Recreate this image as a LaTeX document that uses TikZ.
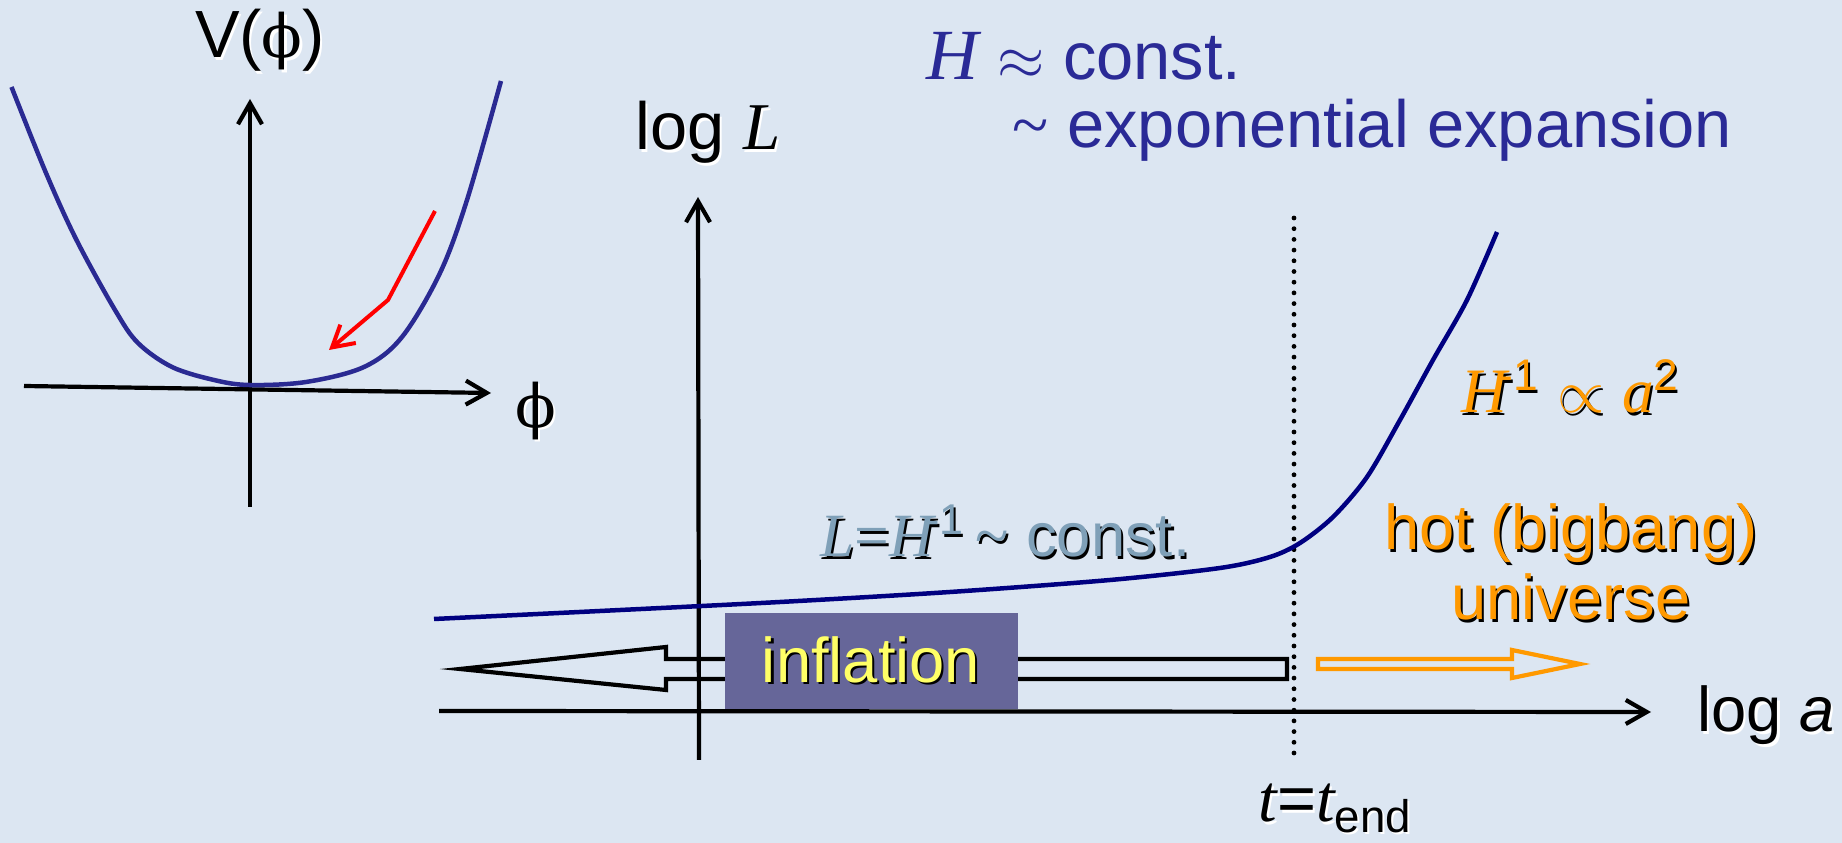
\documentclass[tikz,border=0pt]{standalone}
\usepackage{fontspec}
\setmainfont{Liberation Sans}
\newfontfamily\tms{Liberation Serif}
\newfontfamily\dvs{DejaVu Serif}
\usetikzlibrary{arrows.meta}

\definecolor{bgblue}{RGB}{220,230,242}
\definecolor{potblue}{RGB}{42,42,146}
\definecolor{curvenavy}{RGB}{0,0,128}
\definecolor{textblue}{RGB}{42,42,150}
\definecolor{steelgray}{RGB}{127,160,184}
\definecolor{hotorange}{RGB}{255,153,0}
\definecolor{boxslate}{RGB}{102,102,153}
\definecolor{softyellow}{RGB}{255,255,102}

% text with a drop shadow: #1 shadow colour
\newcommand\shad[2]{\leavevmode\rlap{\kern0.6pt\raisebox{-0.6pt}{\color{#1}#2}}#2}
\newcommand\mi[1]{{\tms\itshape #1}}
\newcommand\Hinv{\mi{H}\textsuperscript{\kern-0.2em-1}}
\newcommand\phisym{{\dvs\fontsize{17}{19}\selectfont ϕ}}
\newcommand\tld{{\tms\textasciitilde}}

\begin{document}
\begin{tikzpicture}[
    x=0.1mm, y=-0.1mm,
    >={Straight Barb[length=2.1mm,width=2.4mm]},
    axis/.style={line width=0.42mm, ->},
    curve/.style={line width=0.45mm},
    blocky/.style={line width=0.42mm, line join=miter},
    dotline/.style={line width=0.48mm, line cap=round, dash pattern=on 0pt off 1.07mm},
    lbl/.style={inner sep=0pt, font=\fontsize{19}{22}\selectfont},
    infbox/.style={fill=boxslate, text=softyellow, inner sep=0pt,
        minimum width=29.3mm, minimum height=9.6mm,
        font=\fontsize{18}{20}\selectfont}
]

    % Background
    \fill[bgblue] (0,0) rectangle (1842,843);
    \useasboundingbox (0,0) rectangle (1842,843);

    % Coordinates
    \coordinate (phiL) at (24,386);    % phi axis left
    \coordinate (phiR) at (491,393);   % phi axis right
    \coordinate (vB) at (250,507);     % V axis bottom
    \coordinate (vT) at (250,99);      % V axis top
    \coordinate (r1) at (435,211);     % red arrow start
    \coordinate (r2) at (388,300);     % red arrow knee
    \coordinate (r3) at (329,350);     % red arrow tip
    \coordinate (aL) at (439,711);     % log a axis left
    \coordinate (aR) at (1651,712);    % log a axis right
    \coordinate (LB) at (699,760);     % log L axis bottom
    \coordinate (LT) at (698,197);     % log L axis top
    \coordinate (dT) at (1294,218);    % t_end top
    \coordinate (dB) at (1294,763);    % t_end bottom

    % Potential V(phi)
    \draw[axis] (phiL) -- (phiR);
    \draw[axis] (vB) -- (vT);
    \draw[potblue, curve] plot[smooth, tension=0.55] coordinates {
        (11.5,87) (46,173) (76.5,240) (115,310) (138,343) (172,367)
        (214,380) (249,385) (306,382) (364,367) (402,337) (440,273)
        (467,200) (501,81)};
    \draw[red, line width=0.4mm, ->, line join=round] (r1) -- (r2) -- (r3);

    \node[lbl, anchor=base] (Vlab) at (260,58) {\shad{white}{V(\phisym)}};
    \node[lbl] (philab) at (536,412) {\shad{white}{\phisym}};

    % Block arrows
    \draw[black, blocky] (460,669) -- (666,647) -- (666,659) -- (1287,659)
        -- (1287,679) -- (666,679) -- (666,690) -- cycle;
    \draw[hotorange, blocky] (1318,659) -- (1512,659) -- (1512,650) -- (1580,664)
        -- (1512,678) -- (1512,669) -- (1318,669) -- cycle;

    \node[infbox] (infl) at (871,661) {\shad{black}{inflation}};

    % log L -- log a
    \draw[axis] (aL) -- (aR);
    \draw[axis] (LB) -- (LT);
    \draw[dotline] (dT) -- (dB);
    \draw[curvenavy, curve] plot[smooth] coordinates {
        (434,619) (600,611) (780,602) (950,592) (1110,580) (1220,568)
        (1270,557) (1300,543) (1333,517) (1367,477) (1400,420) (1433,360)
        (1467,300) (1497,232)};

    \node[lbl, anchor=base west] (logL) at (635,150) {\shad{white}{log \mi{L}}};
    \node[lbl, anchor=base west, font=\fontsize{18}{20}\selectfont] (loga) at (1697,732)
        {\shad{white}{log \textit{a}}};
    \node[lbl, anchor=base west] (tend) at (1258,822)
        {\shad{white}{\mi{t}=\mi{t}\raisebox{-3pt}{\fontsize{13}{13}\selectfont end}}};

    % Labels
    \node[lbl, text=textblue, anchor=base west] (Hc) at (926,80)
        {{\fontsize{20.5}{22}\selectfont\mi{H}} $\approx$ const.};
    \node[lbl, text=textblue, anchor=base west] (expo) at (1012,148)
        {\tld\ exponential expansion};
    \node[lbl, text=steelgray, anchor=base west, font=\fontsize{17.5}{20}\selectfont] (Lc) at (820,557)
        {\shad{black}{\mi{L}{\tms =}\Hinv\,\tld\ const.}};
    \node[lbl, text=hotorange, anchor=base, font=\fontsize{18}{20}\selectfont] (Ha) at (1571,413)
        {\shad{black}{\Hinv\ $\propto$ \mi{a}\textsuperscript{2}}};
    \node[lbl, text=hotorange, anchor=base, font=\fontsize{18}{20}\selectfont] (hot) at (1571,550)
        {\shad{black}{hot (bigbang)}};
    \node[lbl, text=hotorange, anchor=base, font=\fontsize{18}{20}\selectfont] (univ) at (1571,620)
        {\shad{black}{universe}};

\end{tikzpicture}
\end{document}
